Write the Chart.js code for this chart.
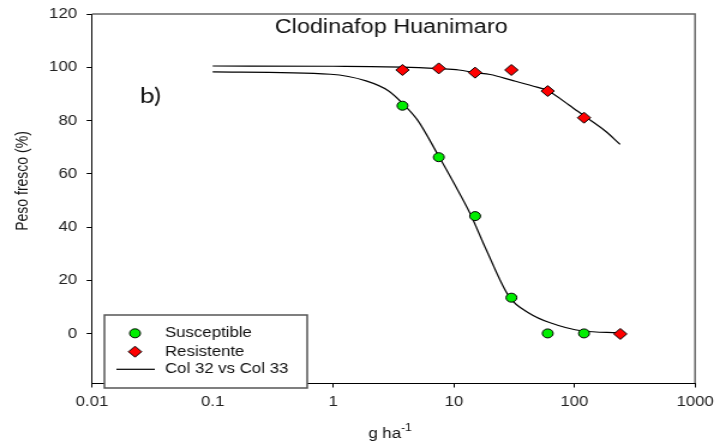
<!DOCTYPE html>
<html>
<head>
<meta charset="utf-8">
<script src="https://cdn.jsdelivr.net/npm/chart.js@4"></script>
<style>
  html, body { margin: 0; padding: 0; background: #fff; overflow: hidden; }
  #wrap { width: 596px; height: 447px; transform: scaleX(1.2); transform-origin: 0 0; }
</style>
</head>
<body>
<div id="wrap"><canvas id="chart" width="596" height="447"></canvas></div>
<script>
// observed points
const suscDoses = [3.75, 7.5, 15, 30, 60, 120];
const susceptible = [85.6, 66.3, 44.2, 13.6, 0.2, 0.2];
const resDoses = [3.75, 7.5, 15, 30, 60, 120, 240];
const resistant = [99.0, 99.6, 98.0, 99.0, 91.1, 81.1, 0];

// fitted curves
const suscFitX = [0.1, 0.95, 1.87, 2.86, 3.75, 5, 7.4, 10, 13.6, 18.6, 28.7, 42.5, 62, 117, 228];
const suscFitY = [98.3, 97.4, 94.9, 91.2, 86.5, 80.2, 67.1, 56.6, 45.3, 31.5, 14.0, 7.7, 4.3, 1.1, 0.5];
const resFitX = [0.1, 1, 3.75, 7.5, 11, 15, 20, 30, 45, 60, 90, 121, 180, 239];
const resFitY = [100.5, 100.4, 100.1, 99.5, 99.0, 98.0, 97.3, 95.2, 93.0, 91.2, 85.9, 81.7, 76.1, 71.1];

const xTicks = [0.01, 0.1, 1, 10, 100, 1000];
const yTicks = [0, 20, 40, 60, 80, 100, 120];

const pts = (xs, ys) => xs.map((x, i) => ({x: x, y: ys[i]}));
const FONT = '"Liberation Sans", Arial, sans-serif';

const extras = {
  id: 'extras',
  afterDraw(chart) {
    const ctx = chart.ctx;
    const a = chart.chartArea;
    ctx.save();
    // top and right frame
    ctx.strokeStyle = '#666';
    ctx.lineWidth = 1.5;
    ctx.beginPath();
    ctx.moveTo(a.left, a.top);
    ctx.lineTo(a.right, a.top);
    ctx.lineTo(a.right, a.bottom);
    ctx.stroke();

    ctx.fillStyle = '#111';
    ctx.textBaseline = 'alphabetic';
    ctx.textAlign = 'center';
    ctx.font = '19.5px ' + FONT;
    ctx.fillText('Clodinafop Huanimaro', 326, 33);

    ctx.textAlign = 'left';
    ctx.font = '22px Lato, "Open Sans", sans-serif';
    ctx.fillText('b)', 116.5, 103);

    // y title
    ctx.save();
    ctx.translate(19.6, 181);
    ctx.rotate(-Math.PI / 2);
    ctx.textAlign = 'center';
    ctx.textBaseline = 'middle';
    ctx.font = '14px ' + FONT;
    ctx.fillText('Peso fresco (%)', 0, 0);
    ctx.restore();

    // x title with superscript
    ctx.font = '14px ' + FONT;
    const mainW = ctx.measureText('g ha').width;
    ctx.font = '10px ' + FONT;
    const supW = ctx.measureText('-1').width;
    let sx = 325 - (mainW + supW) / 2;
    ctx.font = '14px ' + FONT;
    ctx.fillText('g ha', sx, 438);
    ctx.font = '10px ' + FONT;
    ctx.fillText('-1', sx + mainW, 431);

    // legend
    const bx = 87, by = 315, bw = 169, bh = 73;
    ctx.fillStyle = '#fff';
    ctx.fillRect(bx, by, bw, bh);
    ctx.strokeStyle = '#555';
    ctx.lineWidth = 1.5;
    ctx.strokeRect(bx, by, bw, bh);

    const ds = chart.data.datasets;
    const rows = [333.3, 351.7, 369.3];
    [0, 1].forEach((k, i) => {
      const d = ds[k];
      ctx.fillStyle = d.backgroundColor;
      ctx.strokeStyle = d.borderColor;
      ctx.lineWidth = d.borderWidth;
      Chart.helpers.drawPoint(ctx, {pointStyle: d.pointStyle, radius: d.pointRadius, rotation: 0, borderWidth: d.borderWidth}, 112.5, rows[i]);
    });
    ctx.strokeStyle = '#000';
    ctx.lineWidth = 1.2;
    ctx.beginPath();
    ctx.moveTo(97, rows[2]);
    ctx.lineTo(129, rows[2]);
    ctx.stroke();

    ctx.fillStyle = '#111';
    ctx.font = '14px ' + FONT;
    ctx.textAlign = 'left';
    ctx.textBaseline = 'middle';
    ctx.fillText(ds[0].label, 137.5, rows[0]);
    ctx.fillText(ds[1].label, 137.5, rows[1]);
    ctx.fillText(ds[2].label, 137.5, rows[2]);
    ctx.restore();
  }
};

new Chart(document.getElementById('chart'), {
  type: 'scatter',
  data: {
    datasets: [{
      label: 'Susceptible',
      data: pts(suscDoses, susceptible),
      pointStyle: 'circle',
      pointRadius: 4.5,
      backgroundColor: '#00ee00',
      borderColor: '#000',
      borderWidth: 1,
      order: 0
    }, {
      label: 'Resistente',
      data: pts(resDoses, resistant),
      pointStyle: 'rectRot',
      pointRadius: 5.5,
      backgroundColor: '#ff0000',
      borderColor: '#000',
      borderWidth: 1,
      order: 0
    }, {
      label: 'Col 32 vs Col 33',
      data: pts(suscFitX, suscFitY),
      showLine: true,
      cubicInterpolationMode: 'monotone',
      pointRadius: 0,
      borderColor: '#000',
      borderWidth: 1.2,
      order: 1
    }, {
      label: 'Col 32 vs Col 33',
      data: pts(resFitX, resFitY),
      showLine: true,
      cubicInterpolationMode: 'monotone',
      pointRadius: 0,
      borderColor: '#000',
      borderWidth: 1.2,
      order: 1
    }]
  },
  options: {
    responsive: false,
    animation: false,
    devicePixelRatio: 1,
    layout: { padding: { top: 14, right: 16.8, left: 0, bottom: 0 } },
    plugins: { legend: { display: false }, tooltip: { enabled: false } },
    scales: {
      x: {
        type: 'logarithmic',
        min: 0.01,
        max: 1000,
        afterBuildTicks: s => { s.ticks = xTicks.map(v => ({value: v})); },
        afterFit: s => { s.height = 64; s.paddingLeft = 0; s.paddingRight = 0; },
        grid: { display: true, drawOnChartArea: false, drawTicks: true, tickLength: 4.5, color: '#000', lineWidth: 1 },
        border: { display: true, color: '#000', width: 1 },
        ticks: { color: '#222', font: { family: FONT, size: 14 }, padding: 6, maxRotation: 0, autoSkip: false, callback: v => String(v) }
      },
      y: {
        min: -18.4,
        max: 120,
        afterBuildTicks: s => { s.ticks = yTicks.map(v => ({value: v})); },
        afterFit: s => { s.width = 76.7; s.paddingTop = 0; s.paddingBottom = 0; },
        grid: { display: true, drawOnChartArea: false, drawTicks: true, tickLength: 4.5, color: '#000', lineWidth: 1 },
        border: { display: true, color: '#000', width: 1 },
        ticks: { color: '#222', font: { family: FONT, size: 14 }, padding: 8 }
      }
    }
  },
  plugins: [extras]
});
</script>
</body>
</html>
